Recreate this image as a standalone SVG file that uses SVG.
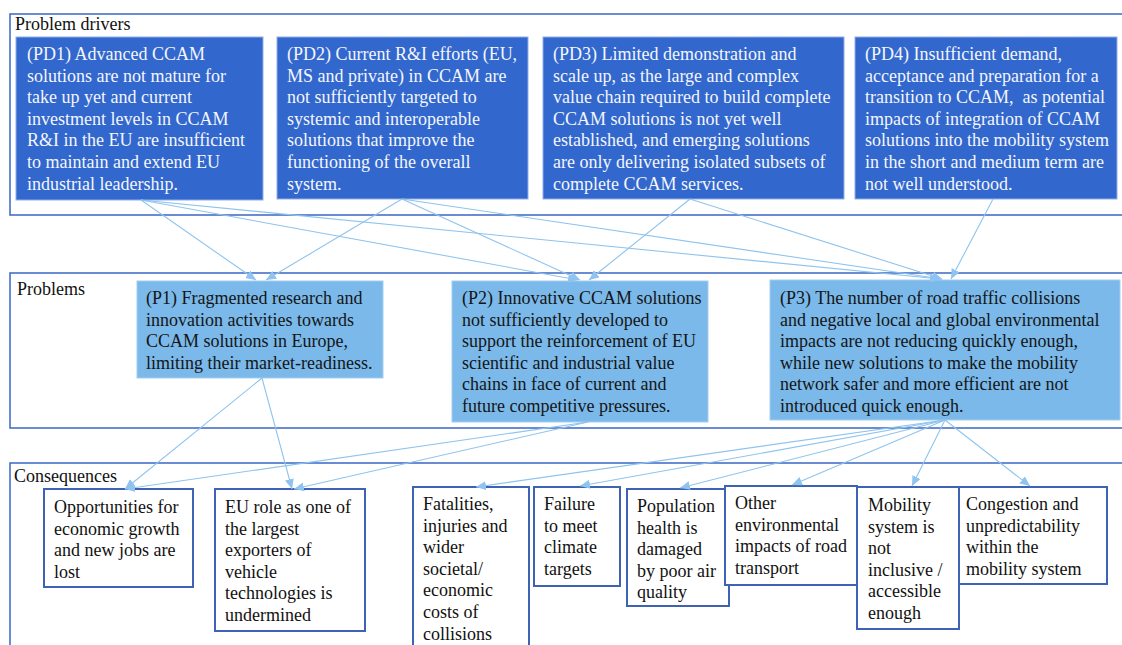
<svg xmlns="http://www.w3.org/2000/svg" width="1122" height="645" viewBox="0 0 1122 645">
  <style>
    .frame { fill: none; stroke: #4670C8; stroke-width: 1.6; }
    .label { font-family: "Liberation Serif", "Times New Roman", serif; font-size: 18px; fill: #111; }
    .pd rect { fill: #3267CE; stroke: #8FAEE6; stroke-width: 1; }
    .pd text { font-family: "Liberation Serif", "Times New Roman", serif; font-size: 18px; fill: #F4F6FB; }
    .p rect { fill: #7AB9EA; stroke: #A3CDF0; stroke-width: 1; }
    .p text { font-family: "Liberation Serif", "Times New Roman", serif; font-size: 18px; fill: #151515; }
    .c rect { fill: #FFFFFF; stroke: #3F63B4; stroke-width: 2; }
    .c text { font-family: "Liberation Serif", "Times New Roman", serif; font-size: 18px; fill: #111; }
    .conn line { stroke: #8EC4EF; stroke-width: 1.1; fill: none; marker-end: url(#arrow); }
  </style>
  <defs>
    <marker id="arrow" markerUnits="userSpaceOnUse" markerWidth="10" markerHeight="9" refX="10" refY="4.5" orient="auto">
      <path d="M0,0 L10,4.5 L0,9 z" fill="#8EC4EF"/>
    </marker>
  </defs>

  <rect width="1122" height="645" fill="#FFFFFF"/>

  <!-- section frames -->
  <g id="frames">
    <rect class="frame" x="10" y="14" width="1125" height="201"/>
    <text class="label" x="15" y="30">Problem drivers</text>
    <rect class="frame" x="10" y="273" width="1125" height="155"/>
    <text class="label" x="17" y="295">Problems</text>
    <rect class="frame" x="10" y="463" width="1125" height="200"/>
    <text class="label" x="14" y="482">Consequences</text>
  </g>

  <!-- problem drivers -->
  <g id="pd1" class="pd">
    <rect x="16" y="37" width="247" height="163"/>
    <text x="27" y="60">(PD1) Advanced CCAM</text>
    <text x="27" y="81.6">solutions are not mature for</text>
    <text x="27" y="103.2">take up yet and current</text>
    <text x="27" y="124.8">investment levels in CCAM</text>
    <text x="27" y="146.4">R&amp;I in the EU are insufficient</text>
    <text x="27" y="168">to maintain and extend EU</text>
    <text x="27" y="189.6">industrial leadership.</text>
  </g>
  <g id="pd2" class="pd">
    <rect x="277" y="37" width="251" height="162"/>
    <text x="287" y="60">(PD2) Current R&amp;I efforts (EU,</text>
    <text x="287" y="81.6">MS and private) in CCAM are</text>
    <text x="287" y="103.2">not sufficiently targeted to</text>
    <text x="287" y="124.8">systemic and interoperable</text>
    <text x="287" y="146.4">solutions that improve the</text>
    <text x="287" y="168">functioning of the overall</text>
    <text x="287" y="189.6">system.</text>
  </g>
  <g id="pd3" class="pd">
    <rect x="543" y="37" width="301" height="162"/>
    <text x="553" y="60">(PD3) Limited demonstration and</text>
    <text x="553" y="81.6">scale up, as the large and complex</text>
    <text x="553" y="103.2">value chain required to build complete</text>
    <text x="553" y="124.8">CCAM solutions is not yet well</text>
    <text x="553" y="146.4">established, and emerging solutions</text>
    <text x="553" y="168">are only delivering isolated subsets of</text>
    <text x="553" y="189.6">complete CCAM services.</text>
  </g>
  <g id="pd4" class="pd">
    <rect x="855" y="37" width="262" height="162"/>
    <text x="865" y="60">(PD4) Insufficient demand,</text>
    <text x="865" y="81.6">acceptance and preparation for a</text>
    <text x="865" y="103.2" xml:space="preserve">transition to CCAM,  as potential</text>
    <text x="865" y="124.8">impacts of integration of CCAM</text>
    <text x="865" y="146.4">solutions into the mobility system</text>
    <text x="865" y="168">in the short and medium term are</text>
    <text x="865" y="189.6">not well understood.</text>
  </g>

  <!-- problems -->
  <g id="p1" class="p">
    <rect x="137" y="281" width="246" height="97"/>
    <text x="146" y="304">(P1) Fragmented research and</text>
    <text x="146" y="325.6">innovation activities towards</text>
    <text x="146" y="347.2">CCAM solutions in Europe,</text>
    <text x="146" y="368.8">limiting their market-readiness.</text>
  </g>
  <g id="p2" class="p">
    <rect x="452" y="281" width="256" height="141"/>
    <text x="462" y="304">(P2) Innovative CCAM solutions</text>
    <text x="462" y="325.6">not sufficiently developed to</text>
    <text x="462" y="347.2">support the reinforcement of EU</text>
    <text x="462" y="368.8">scientific and industrial value</text>
    <text x="462" y="390.4">chains in face of current and</text>
    <text x="462" y="412">future competitive pressures.</text>
  </g>
  <g id="p3" class="p">
    <rect x="770" y="280" width="350" height="140"/>
    <text x="780" y="304">(P3) The number of road traffic collisions</text>
    <text x="780" y="325.6">and negative local and global environmental</text>
    <text x="780" y="347.2">impacts are not reducing quickly enough,</text>
    <text x="780" y="368.8">while new solutions to make the mobility</text>
    <text x="780" y="390.4">network safer and more efficient are not</text>
    <text x="780" y="412">introduced quick enough.</text>
  </g>

  <!-- consequences -->
  <g id="c1" class="c">
    <rect x="44" y="489" width="149" height="98"/>
    <text x="54" y="513">Opportunities for</text>
    <text x="54" y="534.6">economic growth</text>
    <text x="54" y="556.2">and new jobs are</text>
    <text x="54" y="577.8">lost</text>
  </g>
  <g id="c2" class="c">
    <rect x="215" y="489" width="150" height="142"/>
    <text x="225" y="513">EU role as one of</text>
    <text x="225" y="534.6">the largest</text>
    <text x="225" y="556.2">exporters of</text>
    <text x="225" y="577.8">vehicle</text>
    <text x="225" y="599.4">technologies is</text>
    <text x="225" y="621">undermined</text>
  </g>
  <g id="c3" class="c">
    <rect x="413" y="487" width="116" height="170"/>
    <text x="423" y="510">Fatalities,</text>
    <text x="423" y="531.6">injuries and</text>
    <text x="423" y="553.2">wider</text>
    <text x="423" y="574.8">societal/</text>
    <text x="423" y="596.4">economic</text>
    <text x="423" y="618">costs of</text>
    <text x="423" y="639.6">collisions</text>
  </g>
  <g id="c4" class="c">
    <rect x="534" y="487" width="86" height="99"/>
    <text x="544" y="510">Failure</text>
    <text x="544" y="531.6">to meet</text>
    <text x="544" y="553.2">climate</text>
    <text x="544" y="574.8">targets</text>
  </g>
  <g id="c5" class="c">
    <rect x="627" y="489" width="102" height="117"/>
    <text x="637" y="512">Population</text>
    <text x="637" y="533.6">health is</text>
    <text x="637" y="555.2">damaged</text>
    <text x="637" y="576.8">by poor air</text>
    <text x="637" y="598.4">quality</text>
  </g>
  <g id="c6" class="c">
    <rect x="725" y="486" width="132" height="99"/>
    <text x="735" y="509">Other</text>
    <text x="735" y="530.6">environmental</text>
    <text x="735" y="552.2">impacts of road</text>
    <text x="735" y="573.8">transport</text>
  </g>
  <g id="c7" class="c">
    <rect x="857" y="487" width="102" height="142"/>
    <text x="868" y="511">Mobility</text>
    <text x="868" y="532.6">system is</text>
    <text x="868" y="554.2">not</text>
    <text x="868" y="575.8">inclusive /</text>
    <text x="868" y="597.4">accessible</text>
    <text x="868" y="619">enough</text>
  </g>
  <g id="c8" class="c">
    <rect x="959" y="487" width="148" height="97"/>
    <text x="966" y="510">Congestion and</text>
    <text x="966" y="531.6">unpredictability</text>
    <text x="966" y="553.2">within the</text>
    <text x="966" y="574.8">mobility system</text>
  </g>

  <!-- connectors -->
  <g id="connectors" class="conn">
    <line x1="141" y1="200" x2="256" y2="280"/>
    <line x1="141" y1="200" x2="578" y2="280"/>
    <line x1="141" y1="200" x2="940" y2="279"/>
    <line x1="402" y1="199" x2="266" y2="280"/>
    <line x1="402" y1="199" x2="580" y2="280"/>
    <line x1="402" y1="199" x2="942" y2="279"/>
    <line x1="690" y1="199" x2="589" y2="280"/>
    <line x1="690" y1="199" x2="942" y2="279"/>
    <line x1="993" y1="199" x2="951" y2="279"/>

    <line x1="262" y1="378" x2="125" y2="489"/>
    <line x1="262" y1="378" x2="292" y2="489"/>
    <line x1="588" y1="422" x2="125" y2="489"/>
    <line x1="588" y1="422" x2="294" y2="489"/>
    <line x1="945" y1="420" x2="476" y2="487"/>
    <line x1="945" y1="420" x2="580" y2="486"/>
    <line x1="945" y1="420" x2="680" y2="488"/>
    <line x1="945" y1="420" x2="792" y2="485"/>
    <line x1="945" y1="420" x2="912" y2="486"/>
    <line x1="945" y1="420" x2="1030" y2="486"/>
  </g>
</svg>
